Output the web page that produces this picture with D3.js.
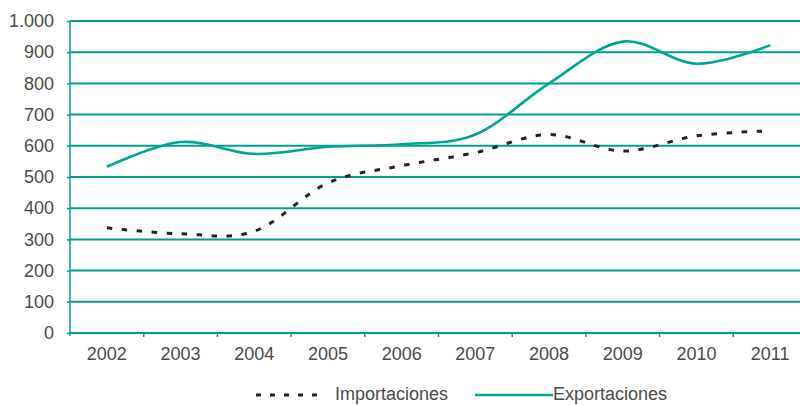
<!DOCTYPE html>
<html><head><meta charset="utf-8">
<script src="https://cdn.jsdelivr.net/npm/d3@7"></script>
<style>body{margin:0;background:#fff}svg{display:block}text{font-family:"Liberation Sans",Arial,sans-serif;fill:#4a4a4a}</style>
</head><body><svg id="c" width="800" height="405"></svg>
<script>
const years = ["2002","2003","2004","2005","2006","2007","2008","2009","2010","2011"];
const importaciones = [337, 318, 326, 481, 536, 578, 636, 583, 632, 648];
const exportaciones = [533, 612, 574, 597, 605, 636, 800, 934, 863, 922];
const yTicks = [0,100,200,300,400,500,600,700,800,900,1000];
const yTickLabels = ["0","100","200","300","400","500","600","700","800","900","1.000"];
const seriesNames = ["Importaciones","Exportaciones"];

const svg = d3.select("#c");
const teal = "#00a08e";
const x = d3.scaleBand().domain(years).range([70, 807]);
const y = d3.scaleLinear().domain([0,1000]).range([333, 21]);

// gridlines
svg.append("g").selectAll("line").data(yTicks.filter(d=>d>0)).join("line")
  .attr("x1",70).attr("x2",810).attr("y1",d=>y(d)).attr("y2",d=>y(d))
  .attr("stroke",teal).attr("stroke-width",2);

// y axis
const yAxis = svg.append("g").attr("transform","translate(70,0)")
  .call(d3.axisLeft(y).tickValues(yTicks).tickFormat((d,i)=>yTickLabels[i]).tickSize(3).tickPadding(13));
yAxis.select(".domain").attr("stroke",teal).attr("stroke-width",1.5).attr("d","M0,336V21");
yAxis.selectAll(".tick line").attr("stroke",teal).attr("stroke-width",1.5);
yAxis.selectAll("text").style("font-size","18px").attr("fill","#4a4a4a");

// x axis
const xAxis = svg.append("g").attr("transform","translate(0,333)")
  .call(d3.axisBottom(x).tickSize(0).tickPadding(14));
xAxis.select(".domain").attr("stroke",teal).attr("stroke-width",2).attr("d","M70,0H810");
xAxis.selectAll("text").style("font-size","18px").attr("fill","#4a4a4a");
// band boundary ticks
svg.append("g").selectAll("line").data(years.slice(1)).join("line")
  .attr("x1",d=>x(d)).attr("x2",d=>x(d)).attr("y1",333).attr("y2",337)
  .attr("stroke",teal).attr("stroke-width",1.5);

const cx = d=>x(d)+x.bandwidth()/2;
const line = d3.line().x((d,i)=>cx(years[i])).y(d=>y(d)).curve(d3.curveCardinal.tension(0));

svg.append("path").attr("d",line(exportaciones)).attr("fill","none")
  .attr("stroke","#00a593").attr("stroke-width",2.6);
svg.append("path").attr("d",line(importaciones)).attr("fill","none")
  .attr("stroke","#222").attr("stroke-width",3).attr("stroke-dasharray","5.5,9.5");

// legend
const lg = svg.append("g");
lg.append("line").attr("x1",256).attr("x2",326).attr("y1",395).attr("y2",395)
  .attr("stroke","#222").attr("stroke-width",3).attr("stroke-dasharray","5,9");
lg.append("text").attr("x",335).attr("y",400).style("font-size","18px").text(seriesNames[0]);
lg.append("line").attr("x1",475).attr("x2",553).attr("y1",395).attr("y2",395)
  .attr("stroke","#00a593").attr("stroke-width",2.6);
lg.append("text").attr("x",553).attr("y",400).style("font-size","18px").text(seriesNames[1]);
</script></body></html>
